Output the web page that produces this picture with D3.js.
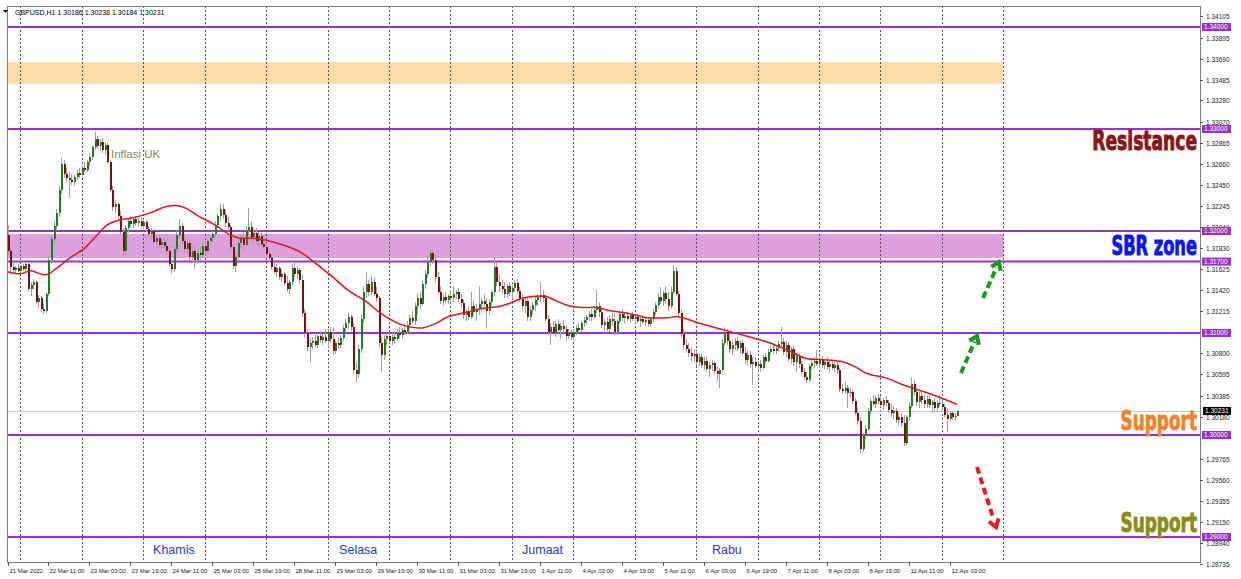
<!DOCTYPE html>
<html><head><meta charset="utf-8">
<script src="https://cdn.jsdelivr.net/npm/d3@7"></script>
<style>body{margin:0;background:#fff;overflow:hidden}</style>
</head><body><svg id="c" width="1241" height="579"></svg>
<script>
// Prices in pips above 1.30000 (value v -> 1.30000 + v/10000), H1 bars from 21 Mar 19:00 to 12 Apr 06:00
const opens=[196,180,165,162,164,161,166,163,168,143,147,150,130,134,124,122,138,172,192,205,218,240,266,256,252,250,248,253,257,255,262,260,268,273,282,290,283,287,279,284,268,240,224,226,215,199,180,203,210,207,212,208,210,205,209,202,197,200,189,193,186,189,185,180,168,163,182,196,205,190,182,188,175,180,172,178,176,185,180,190,193,197,206,215,222,216,208,204,184,166,175,188,192,186,200,204,194,198,190,195,187,184,177,174,165,160,164,155,158,149,143,150,164,158,162,152,120,100,86,90,92,88,97,93,96,92,101,94,82,90,88,95,105,110,116,106,64,60,84,114,140,148,140,150,138,134,90,78,94,97,92,96,94,100,98,103,101,108,115,112,126,134,128,148,158,170,178,172,155,140,131,135,132,136,134,138,140,133,129,118,122,116,126,121,124,128,131,128,122,130,140,165,150,146,143,138,146,140,144,149,141,133,126,131,116,123,127,132,135,137,134,114,101,106,100,109,103,107,104,97,100,96,101,105,103,110,113,116,119,116,123,126,121,108,111,104,114,112,101,112,119,115,117,114,118,114,116,112,114,111,113,109,114,121,127,135,131,139,133,126,140,161,138,120,99,88,84,80,77,79,72,76,69,73,65,69,71,63,60,64,90,101,92,84,88,92,85,90,80,74,78,70,72,68,70,66,76,73,81,84,82,85,89,91,81,88,75,84,72,77,70,62,57,54,68,71,73,70,74,69,72,67,70,66,69,64,45,43,46,41,42,33,22,14,-14,0,6,24,33,30,36,33,29,34,31,25,22,24,15,18,12,-8,18,28,50,42,32,38,34,30,35,29,32,26,31,30,27,20,16,22,18,18.6];
const highs=[206,182,170,166,168,167,168,169,170,150,153,152,137,136,128,140,176,195,210,222,244,272,270,262,258,256,255,260,262,265,268,270,276,284,297,293,290,291,287,286,270,244,230,228,220,203,206,213,215,214,215,213,214,212,211,205,203,202,196,197,192,194,190,184,172,185,200,212,208,195,192,191,184,186,182,184,188,190,192,196,200,210,218,226,226,222,214,206,187,178,192,196,198,205,223,210,202,203,199,198,192,188,182,176,170,168,166,162,160,156,152,168,170,166,164,157,124,104,95,96,98,100,102,99,104,104,106,105,92,96,98,108,114,120,118,110,72,88,118,146,159,152,156,154,145,136,96,98,100,101,100,102,104,106,105,110,112,118,122,130,138,140,152,162,176,182,181,176,160,146,138,140,138,142,146,142,144,138,133,124,126,140,132,128,146,134,138,134,133,142,175,170,158,152,150,148,150,147,152,153,145,138,134,134,126,130,135,138,150,142,137,118,110,112,112,114,110,113,108,104,103,104,108,110,112,116,118,122,124,126,142,130,125,114,116,118,120,120,114,122,124,120,121,120,121,119,119,117,118,116,116,116,124,130,138,145,142,146,140,145,167,165,141,124,104,94,90,86,84,84,80,79,76,76,72,74,73,68,66,94,106,104,98,92,95,96,93,93,86,82,82,76,76,73,74,78,80,84,87,88,88,92,106,95,92,91,86,87,80,80,73,66,62,70,74,76,83,76,77,75,76,73,74,72,72,66,50,52,49,46,44,36,26,18,2,10,26,36,39,38,40,38,36,38,34,30,28,26,22,22,20,20,32,56,54,46,42,44,39,38,38,34,36,34,39,36,30,26,24,24,22,23.8];
const lows=[176,160,158,158,160,159,161,161,140,136,143,128,125,121,119,120,136,168,188,200,214,236,252,248,232,245,244,250,252,253,258,258,264,270,279,280,278,276,275,266,238,220,218,212,196,175,176,198,204,203,205,204,203,202,199,194,192,186,185,183,181,183,176,165,158,160,178,192,186,178,176,172,170,163,168,172,174,176,178,185,188,194,203,210,212,204,200,180,163,160,172,183,180,184,196,190,188,186,184,184,182,174,170,162,158,155,152,150,146,140,138,147,155,153,148,116,96,82,72,84,86,85,90,88,90,86,90,78,79,84,85,92,100,104,102,60,51,56,80,110,134,136,137,136,130,86,62,74,88,90,88,89,92,95,94,98,99,104,110,108,118,124,126,143,154,166,168,150,138,128,126,129,128,131,130,133,130,125,114,112,113,114,118,112,118,120,126,104,118,126,136,146,140,138,134,134,136,133,140,138,130,122,120,112,112,118,122,126,130,130,112,98,88,98,96,100,94,100,92,94,93,92,98,100,101,106,108,112,112,114,120,116,105,100,100,101,108,98,98,110,112,110,112,110,112,110,110,106,109,107,106,106,111,118,124,128,126,128,122,124,138,136,116,96,84,80,76,72,72,68,68,66,64,62,57,63,60,52,46,62,87,88,80,78,83,82,80,78,70,68,66,49,66,63,62,64,70,71,78,78,79,81,85,78,76,72,70,68,62,66,60,54,51,52,64,66,68,66,66,65,64,62,64,62,60,42,40,40,26,36,30,20,10,-18,-17,-4,4,20,28,26,30,27,25,28,22,18,16,12,10,8,-11,-10,14,26,38,28,26,30,26,26,26,22,24,23,27,24,18,3,14,15,14,18.4];
const closes=[180,165,162,164,161,166,163,168,143,147,150,130,134,124,122,138,172,192,205,218,240,266,256,252,250,248,253,257,255,262,260,268,273,282,290,283,287,279,284,268,240,224,226,215,199,180,203,210,207,212,208,210,205,209,202,197,200,189,193,186,189,185,180,168,163,182,196,205,190,182,188,175,180,172,178,176,185,180,190,193,197,206,215,222,216,208,204,184,166,175,188,192,186,200,204,194,198,190,195,187,184,177,174,165,160,164,155,158,149,143,150,164,158,162,152,120,100,86,90,92,88,97,93,96,92,101,94,82,90,88,95,105,110,116,106,64,60,84,114,140,148,140,150,138,134,90,78,94,97,92,96,94,100,98,103,101,108,115,112,126,134,128,148,158,170,178,172,155,140,131,135,132,136,134,138,140,133,129,118,122,116,126,121,124,128,131,128,122,130,140,165,150,146,143,138,146,140,144,149,141,133,126,131,116,123,127,132,135,137,134,114,101,106,100,109,103,107,104,97,100,96,101,105,103,110,113,116,119,116,123,126,121,108,111,104,114,112,101,112,119,115,117,114,118,114,116,112,114,111,113,109,114,121,127,135,131,139,133,126,140,161,138,120,99,88,84,80,77,79,72,76,69,73,65,69,71,63,60,64,90,101,92,84,88,92,85,90,80,74,78,70,72,68,70,66,76,73,81,84,82,85,89,91,81,88,75,84,72,77,70,62,57,54,68,71,73,70,74,69,72,67,70,66,69,64,45,43,46,41,42,33,22,14,-14,0,6,24,33,30,36,33,29,34,31,25,22,24,15,18,12,-8,18,28,50,42,32,38,34,30,35,29,32,26,31,30,27,20,16,22,18,18.6,23.1];

// Moving average (bar index, pips)
const maIndex=[0,5,9,15,19,24,30,35,39,44,49,56,62,66,70,75,81,87,91,96,101,108,114,120,127,133,140,146,153,157,162,167,172,179,185,192,196,201,206,210,214,219,225,230,235,243,250,258,262,271,280,290,297,305,312,318,326,331,336,343,349,356,362,371];
const maValues=[160,158,161,157,163,173,183,196,206,211,213,218,224,225,222,214,206,196,193,193,191,186,180,169,155,142,131,119,109,106,105,109,116,120,124,126,129,134,136,136,132,127,125,125,122,119,115,115,116,109,103,96,91,83,75,74,72,67,60,56,50,44,39,30];

const xTickLabels=["21 Mar 2022","22 Mar 11:00","23 Mar 03:00","23 Mar 19:00","24 Mar 11:00","25 Mar 03:00","25 Mar 19:00","28 Mar 11:00","29 Mar 03:00","29 Mar 19:00","30 Mar 11:00","31 Mar 03:00","31 Mar 19:00","1 Apr 11:00","4 Apr 03:00","4 Apr 19:00","5 Apr 11:00","6 Apr 03:00","6 Apr 19:00","7 Apr 11:00","8 Apr 03:00","8 Apr 19:00","11 Apr 11:00","12 Apr 03:00"];
const priceTicks=["1.34105","1.33895","1.33690","1.33485","1.33280","1.33070","1.32865","1.32660","1.32450","1.32245","1.32040","1.31830","1.31625","1.31420","1.31215","1.30800","1.30595","1.30385","1.30180","1.29765","1.29560","1.29355","1.29150","1.28940","1.28735"];
const levels=[1.34,1.33,1.32,1.317,1.31,1.30,1.29];
const levelLabels=["1.34000","1.33000","1.32000","1.31700","1.31000","1.30000","1.29000"];
const zoneLow=[1.33443,1.31735];
const zoneHigh=[1.33655,1.31971];
const zoneColors=["#ffdcaa","#dda0dd"];
const dayNames=["Khamis","Selasa","Jumaat","Rabu"];
const dayBars=[65,137,209,281];
const header="GBPUSD,H1  1.30186 1.30238 1.30184 1.30231";
const lastPrice=1.30231;

const svg=d3.select("#c");
const L=7,R=1200,T=6,B=562;
const nBars=closes.length;
const x=d3.scaleLinear().domain([0,nBars-1]).range([7.5,7.5+2.56*(nBars-1)]);
const y=d3.scaleLinear().domain([1.29,1.34]).range([537,27]);
const P=v=>1.3+v/10000;

svg.append("rect").attr("width",1241).attr("height",579).attr("fill","#fff");

// zones
const zoneEnd=x(389);
zoneLow.forEach((lo,k)=>{
  svg.append("rect").attr("x",L).attr("width",zoneEnd-L)
    .attr("y",y(zoneHigh[k])).attr("height",y(lo)-y(zoneHigh[k])).attr("fill",zoneColors[k]);
});

// vertical grid (day starts)
const gridBars=d3.range(5,390,24);
svg.append("g").selectAll("line").data(gridBars).join("line")
  .attr("x1",d=>Math.round(x(d))+0.5).attr("x2",d=>Math.round(x(d))+0.5)
  .attr("y1",T).attr("y2",B).attr("stroke","#555").attr("stroke-dasharray","2,2").attr("stroke-width",1);

// current price line
svg.append("line").attr("x1",L).attr("x2",R).attr("y1",Math.round(y(lastPrice))+0.5).attr("y2",Math.round(y(lastPrice))+0.5)
  .attr("stroke","#c8c8c8").attr("stroke-width",1);

// levels
svg.append("g").selectAll("line").data(levels).join("line")
  .attr("x1",L).attr("x2",R).attr("y1",d=>y(d)).attr("y2",d=>y(d))
  .attr("stroke","#9b30d0").attr("stroke-width",2);

// candles
const g=svg.append("g").attr("shape-rendering","crispEdges");
d3.range(nBars).forEach(i=>{
  const xc=Math.round(x(i));
  const o=P(opens[i]),c=P(closes[i]),h=P(highs[i]),l=P(lows[i]);
  g.append("line").attr("x1",xc+0.5).attr("x2",xc+0.5).attr("y1",y(h)).attr("y2",y(l)).attr("stroke","#a0a0a0");
  const top=y(Math.max(o,c)),bot=y(Math.min(o,c));
  g.append("rect").attr("x",xc-0.5).attr("width",2).attr("y",top).attr("height",Math.max(1,bot-top))
    .attr("fill",c>=o?"#1e7d1e":"#7d0f0f");
});

// moving average
svg.append("path").datum(maIndex.map((d,k)=>[d,maValues[k]]))
  .attr("d",d3.line().x(d=>x(d[0])).y(d=>y(P(d[1]))).curve(d3.curveCatmullRom))
  .attr("fill","none").attr("stroke","#e8141e").attr("stroke-width",1.5);

// frame
svg.append("rect").attr("x",L+0.5).attr("y",T+0.5).attr("width",R-L).attr("height",B-T)
  .attr("fill","none").attr("stroke","#808080");

// right axis ticks
const ax=svg.append("g").attr("font-family","Liberation Sans, Arial").attr("font-size",6.5).attr("fill","#222");
priceTicks.forEach(t=>{
  const yy=Math.round(y(+t))+0.5;
  ax.append("line").attr("x1",R).attr("x2",R+3).attr("y1",yy).attr("y2",yy).attr("stroke","#555");
  ax.append("text").attr("x",R+6).attr("y",yy+2.5).text(t);
});
// level labels
levels.forEach((lv,k)=>{
  const yy=y(lv);
  svg.append("rect").attr("x",R+2).attr("y",yy-4).attr("width",29).attr("height",8).attr("fill","#9b30d0");
  svg.append("text").attr("x",R+4).attr("y",yy+2.4).attr("font-family","Liberation Sans, Arial").attr("font-size",6.5).attr("fill","#fff").text(levelLabels[k]);
});
// last price label
svg.append("rect").attr("x",R+3).attr("y",y(lastPrice)-4.5).attr("width",28).attr("height",8).attr("fill","#000");
svg.append("text").attr("x",R+5).attr("y",y(lastPrice)+1.8).attr("font-family","Liberation Sans, Arial").attr("font-size",6.5).attr("fill","#fff").text("1.30231");

// x axis labels
const xa=svg.append("g").attr("font-family","Liberation Sans, Arial").attr("font-size",6).attr("fill","#222");
xTickLabels.forEach((t,k)=>{
  const xx=Math.round(x(k*16))+0.5;
  xa.append("line").attr("x1",xx).attr("x2",xx).attr("y1",B).attr("y2",B+4).attr("stroke","#555");
  xa.append("text").attr("x",xx+1).attr("y",B+11).text(t);
});

// header
svg.append("path").attr("d","M3,10 L8,10 L5.5,13 Z").attr("fill","#000");
svg.append("text").attr("x",15).attr("y",15).attr("font-family","Liberation Sans, Arial").attr("font-size",7)
  .attr("fill","#000").text(header);

// annotations
function big(t,xEnd,yb,col,sx){
  svg.append("g").attr("transform",`translate(${xEnd},${yb}) scale(${sx},1.15)`)
    .append("text").attr("x",0).attr("y",0).attr("text-anchor","end").attr("font-family","Liberation Sans Narrow, DejaVu Sans Condensed")
    .attr("font-weight","bold").attr("font-size",23.5)
    .attr("fill",col).attr("stroke",col).attr("stroke-width",0.8).text(t);
}
big("Resistance",1197,150,"#8b1414",0.81);
big("SBR zone",1197,255,"#0a14ff",0.77);
big("Support",1197,430,"#f5822a",0.8);
big("Support",1197,532,"#8c8c14",0.8);

dayNames.forEach((d,k)=>{
  svg.append("text").attr("x",x(dayBars[k])).attr("y",554).attr("text-anchor","middle")
    .attr("font-family","Liberation Sans, Arial").attr("font-size",12.5).attr("fill","#1e3cc8").text(d);
});
svg.append("text").attr("x",111).attr("y",158).attr("font-family","Liberation Sans, Arial").attr("font-size",11.5)
  .attr("fill","#7d8c5a").text("Inflasi UK");

// arrows
function arrow(x1,y1,x2,y2,col){
  svg.append("line").attr("x1",x1).attr("y1",y1).attr("x2",x2-(x2-x1)*0.15).attr("y2",y2-(y2-y1)*0.15)
    .attr("stroke",col).attr("stroke-width",4).attr("stroke-dasharray","7,4");
  const a=Math.atan2(y2-y1,x2-x1),s=9;
  const p1=[x2-s*Math.cos(a-0.6),y2-s*Math.sin(a-0.6)],p2=[x2-s*Math.cos(a+0.6),y2-s*Math.sin(a+0.6)];
  svg.append("path").attr("d",`M${p1}L${x2},${y2}L${p2}`).attr("fill","none").attr("stroke",col).attr("stroke-width",4);
}
arrow(961,373,977,336,"#1a9a1a");
arrow(983,298,999,262,"#1a9a1a");
arrow(977,467,996,527,"#e61e1e");
</script></body></html>
